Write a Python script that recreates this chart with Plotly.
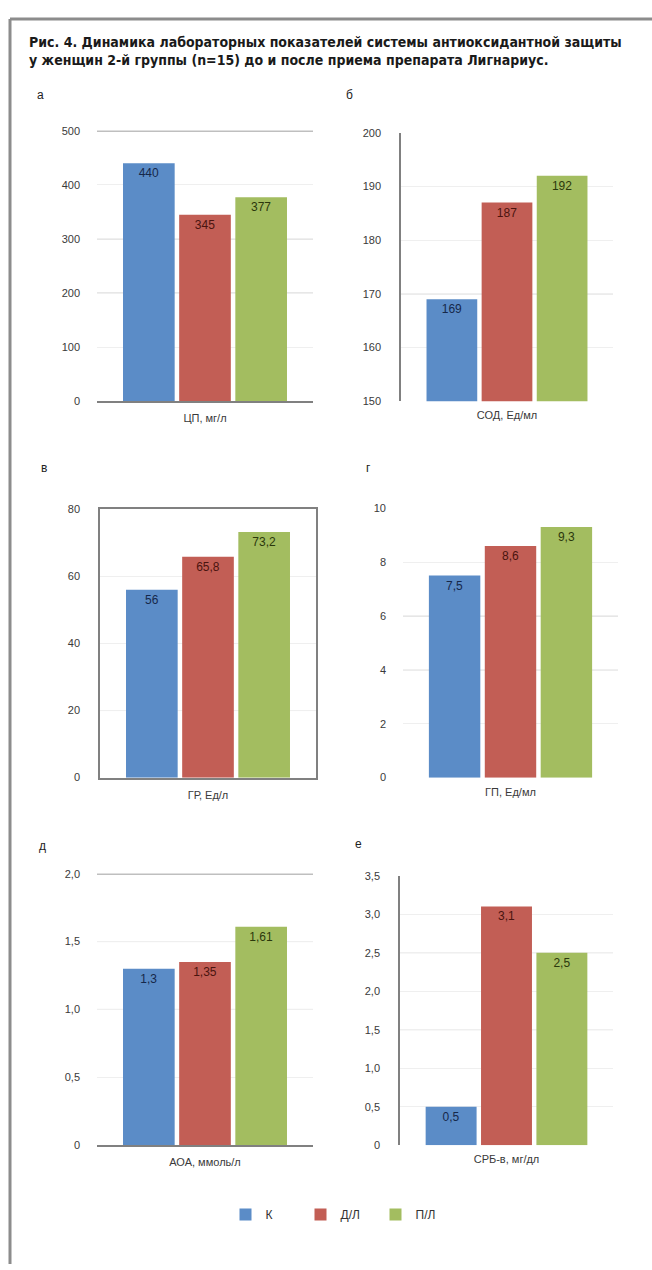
import plotly.graph_objects as go

# ---- data -------------------------------------------------------------
categories = ["ЦП, мг/л", "СОД, Ед/мл", "ГР, Ед/л", "ГП, Ед/мл", "АОА, ммоль/л", "СРБ-в, мг/дл"]
panel_letters = ["а", "б", "в", "г", "д", "е"]
series_names = ["К", "Д/Л", "П/Л"]
k_values = [440, 169, 56, 7.5, 1.3, 0.5]
dl_values = [345, 187, 65.8, 8.6, 1.35, 3.1]
pl_values = [377, 192, 73.2, 9.3, 1.61, 2.5]
y_ranges = [(0, 500), (150, 200), (0, 80), (0, 10), (0, 2.0), (0, 3.5)]
y_steps = [100, 10, 20, 2, 0.5, 0.5]

title_lines = [
    "Рис. 4. Динамика лабораторных показателей системы антиоксидантной защиты",
    "у женщин 2-й группы (n=15) до и после приема препарата Лигнариус.",
]

# ---- styling ----------------------------------------------------------
W, H = 652, 1270
bar_colors = ["#5b8cc7", "#c25e55", "#a3bd60"]
label_colors = ["#16284a", "#4a140f", "#2b380c"]
FONT = "Liberation Sans, Arial, sans-serif"
DARK = "#808080"
GRID = "#efefef"
GRID_STRONG = "#c9c9c9"

# plot boxes in pixels: (left, right, top, bottom)
boxes = [(97, 313, 126, 399), (401, 613, 128, 399),
         (100, 316, 508, 779), (403, 618, 507, 779),
         (97, 313, 876, 1150), (400, 613, 878, 1150)]
letter_pos = [(40, 90), (349, 90), (44, 466), (368, 466), (43, 848), (358, 846)]
strong_grid = [[300, 200], [170], [20], [6, 4], [1.5, 1.0], [2.5, 1.5]]
top_dark = [True, False, False, False, True, False]
bottom_dark = [True, False, False, False, True, False]
left_dark = [False, True, False, False, False, True]
boxed = [False, False, True, False, False, False]


def fmt(v, decimals=None):
    if decimals is not None and v != 0:
        s = f"{v:.{decimals}f}"
    else:
        s = f"{v:g}"
    return s.replace(".", ",")


def axis_id(i):
    return "" if i == 0 else str(i + 1)


fig = go.Figure()
series = [k_values, dl_values, pl_values]

for i, cat in enumerate(categories):
    for s, name in enumerate(series_names):
        v = series[s][i]
        fig.add_trace(go.Bar(
            x=[cat], y=[v], name=name,
            marker=dict(color=bar_colors[s], line=dict(width=0)),
            text=[fmt(v)], textposition="inside", insidetextanchor="end",
            textangle=0, constraintext="none",
            textfont=dict(family=FONT, size=12, color=label_colors[s]),
            xaxis="x" + axis_id(i), yaxis="y" + axis_id(i),
            legendgroup=name, showlegend=(i == 0),
            hoverinfo="skip",
        ))

layout = dict(
    width=W, height=H,
    margin=dict(l=0, r=0, t=0, b=0),
    paper_bgcolor="white", plot_bgcolor="white",
    barmode="group", bargap=0.22, bargroupgap=0.08,
    font=dict(family=FONT, size=11, color="#3a3a3a"),
    showlegend=True,
    legend=dict(orientation="h", x=338 / W, xanchor="center",
                y=1 - 1220 / H, yanchor="middle",
                font=dict(family=FONT, size=12, color="#333333"),
                entrywidth=30, entrywidthmode="pixels",
                itemwidth=30,
                itemclick=False, itemdoubleclick=False),
)

shapes = []
annotations = []

for i in range(6):
    l, r, t, b = boxes[i]
    lo, hi = y_ranges[i]
    step = y_steps[i]
    n = int(round((hi - lo) / step))
    tvals = [lo + k * step for k in range(n + 1)]
    dec = 1 if step < 1 else None
    ttext = [fmt(v, dec) for v in tvals]
    ax = axis_id(i)
    layout["xaxis" + ax] = dict(
        domain=[l / W, r / W], anchor="y" + ax, type="category",
        showgrid=False, zeroline=False,
        showline=bottom_dark[i] or boxed[i], linecolor=DARK, linewidth=1.5,
        mirror=boxed[i], ticks="", ticklabelstandoff=6,
        tickfont=dict(family=FONT, size=11, color="#3a3a3a"),
        fixedrange=True,
    )
    layout["yaxis" + ax] = dict(
        domain=[1 - b / H, 1 - t / H], anchor="x" + ax,
        range=[lo, hi], tickvals=tvals, ticktext=ttext,
        showgrid=True, gridcolor=GRID, gridwidth=1, zeroline=False,
        showline=left_dark[i] or boxed[i], linecolor=DARK, linewidth=1.5,
        mirror=boxed[i], ticks="", ticklabelstandoff=16,
        tickfont=dict(family=FONT, size=11, color="#3a3a3a"),
        fixedrange=True,
    )
    for g in strong_grid[i]:
        shapes.append(dict(type="line", xref="x" + ax + " domain", yref="y" + ax,
                           x0=0, x1=1, y0=g, y1=g, layer="below",
                           line=dict(color=GRID_STRONG, width=1)))
    if top_dark[i]:
        shapes.append(dict(type="line", xref="x" + ax + " domain", yref="y" + ax,
                           x0=0, x1=1, y0=hi, y1=hi, layer="below",
                           line=dict(color=DARK, width=1.5)))
    lx, ly = letter_pos[i]
    annotations.append(dict(text=panel_letters[i], xref="paper", yref="paper",
                            x=lx / W, y=1 - ly / H, xanchor="center", yanchor="middle",
                            showarrow=False,
                            font=dict(family=FONT, size=12, color="#222222")))

# figure caption
annotations.append(dict(
    text="<b>" + "<br>".join(title_lines) + "</b>",
    xref="paper", yref="paper", x=27 / W, y=1 - 26 / H,
    xanchor="left", yanchor="top", align="left", showarrow=False,
    font=dict(family="Liberation Sans Narrow, DejaVu Sans Condensed, Arial Narrow, sans-serif",
              size=14, color="#1a1a1a"),
))

# frame around the figure (top and left edges)
shapes.append(dict(type="line", xref="paper", yref="paper",
                   x0=10 / W, x1=1, y0=1 - 13 / H, y1=1 - 13 / H,
                   line=dict(color="#8c8c8c", width=3)))
shapes.append(dict(type="line", xref="paper", yref="paper",
                   x0=10 / W, x1=10 / W, y0=0, y1=1 - 13 / H,
                   line=dict(color="#8c8c8c", width=3)))

layout["shapes"] = shapes
layout["annotations"] = annotations
fig.update_layout(**layout)

fig.write_html("out.html", config={"displayModeBar": False})
